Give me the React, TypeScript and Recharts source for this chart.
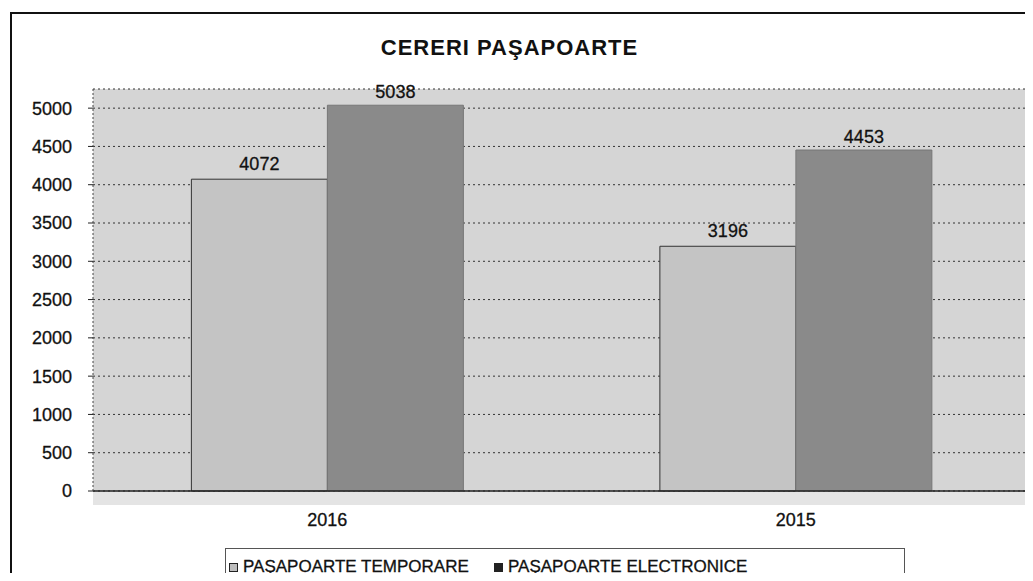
import React from 'react'
import {
  BarChart,
  Bar,
  XAxis,
  YAxis,
  CartesianGrid,
  LabelList,
} from 'recharts'

// values
const categories = ['2016', '2015']
const temporare = [4072, 3196]
const electronice = [5038, 4453]
const yTicks = [0, 500, 1000, 1500, 2000, 2500, 3000, 3500, 4000, 4500, 5000]
const seriesNames = ['PAŞAPOARTE TEMPORARE', 'PAŞAPOARTE ELECTRONICE']
const seriesColors = ['#c4c4c4', '#8a8a8a']

const data = categories.map((year, i) => ({
  year,
  temp: temporare[i],
  elec: electronice[i],
}))

const font = 'Arial, "Liberation Sans", sans-serif'
// scanned text looks a bit heavier than plain Arial
const tickStyle = { fill: '#111', stroke: '#111', strokeWidth: 0.3, fontSize: 18, fontFamily: font }

export default function App() {
  return (
    <div
      style={{
        position: 'relative',
        width: 1033,
        height: 581,
        margin: -8,
        background: '#fff',
        overflow: 'hidden',
        fontFamily: font,
      }}
    >
      {/* outer frame of the scanned chart */}
      <div
        style={{
          position: 'absolute',
          left: 10,
          top: 12,
          width: 1040,
          height: 600,
          borderLeft: '2px solid #111',
          borderTop: '2px solid #111',
        }}
      />

      {/* floor strip below the zero line */}
      <div
        style={{
          position: 'absolute',
          left: 93,
          top: 491,
          width: 937,
          height: 14,
          background: '#e4e4e4',
        }}
      />

      <div
        style={{
          position: 'absolute',
          left: 0,
          top: 36,
          width: 1019,
          textAlign: 'center',
          fontSize: 22,
          fontWeight: 'bold',
          letterSpacing: 1,
          color: '#111',
          lineHeight: '24px',
        }}
      >
        CERERI PAŞAPOARTE
      </div>

      <div style={{ position: 'absolute', left: 0, top: 0 }}>
        <BarChart
          width={1033}
          height={581}
          data={data}
          margin={{ top: 89, right: 3, bottom: 50, left: 0 }}
          barCategoryGap="21%"
          barGap={0}
        >
          <CartesianGrid
            vertical={false}
            stroke="#333"
            strokeDasharray="2 3"
            fill="#d5d5d5"
          />
          <XAxis
            dataKey="year"
            height={40}
            tickLine={false}
            tickMargin={16}
            axisLine={{ stroke: '#222', strokeWidth: 1.5 }}
            tick={tickStyle}
          />
          <YAxis
            width={93}
            domain={[0, 5250]}
            ticks={yTicks}
            interval={0}
            tickSize={5}
            tickMargin={16}
            axisLine={{ stroke: '#444', strokeDasharray: '2 2' }}
            tickLine={{ stroke: '#222' }}
            tick={tickStyle}
          />
          <Bar
            dataKey="temp"
            name={seriesNames[0]}
            fill={seriesColors[0]}
            stroke="#333"
            strokeWidth={1}
            isAnimationActive={false}
          >
            <LabelList
              dataKey="temp"
              position="top"
              offset={9}
              fill="#111"
              stroke="#111"
              strokeWidth={0.3}
              fontSize={18}
              fontFamily={font}
            />
          </Bar>
          <Bar
            dataKey="elec"
            name={seriesNames[1]}
            fill={seriesColors[1]}
            stroke="#777"
            strokeWidth={1}
            isAnimationActive={false}
          >
            <LabelList
              dataKey="elec"
              position="top"
              offset={7}
              fill="#111"
              stroke="#111"
              strokeWidth={0.3}
              fontSize={18}
              fontFamily={font}
            />
          </Bar>
        </BarChart>
      </div>

      {/* legend box, cut off by the bottom edge like the scan */}
      <div
        style={{
          position: 'absolute',
          left: 225,
          top: 548,
          width: 680,
          height: 50,
          border: '1px solid #555',
          boxSizing: 'border-box',
        }}
      >
        {seriesNames.map((name, i) => (
          <div
            key={name}
            style={{
              position: 'absolute',
              left: i === 0 ? 3 : 268,
              top: 9,
              display: 'flex',
              alignItems: 'center',
              gap: 5,
              fontSize: 17,
              color: '#111',
              lineHeight: '18px',
              whiteSpace: 'nowrap',
              WebkitTextStroke: '0.3px #111',
            }}
          >
            <div
              style={{
                width: 9,
                height: 9,
                background: i === 0 ? '#bdbdbd' : '#222',
                border: '1px solid #222',
                boxSizing: 'border-box',
              }}
            />
            {name}
          </div>
        ))}
      </div>
    </div>
  )
}
